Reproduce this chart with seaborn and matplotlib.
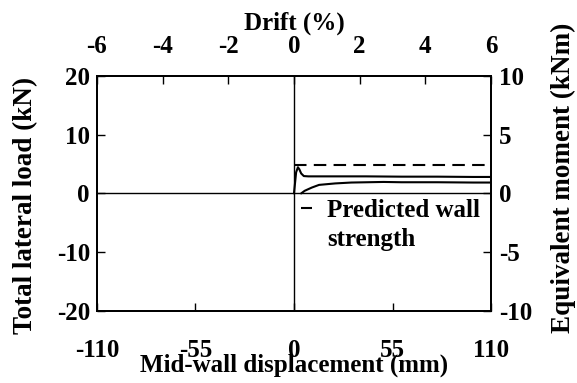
import numpy as np
import pandas as pd
import matplotlib
matplotlib.use("Agg")
import matplotlib.pyplot as plt
import seaborn as sns

# load path: mid-wall displacement (mm) vs total lateral load (kN)
disp = [0, 0.5, 1.2, 2.2, 3.0, 4.0, 5.5, 8, 20, 40, 60, 80, 100, 110,
        110, 100, 80, 60, 50, 32, 23, 14, 10, 6, 4]
load = [0, 1.5, 3.6, 4.45, 4.1, 3.4, 2.95, 2.9, 2.9, 2.9, 2.85, 2.85, 2.8, 2.8,
        1.85, 1.85, 1.9, 1.9, 1.95, 1.85, 1.7, 1.45, 1.0, 0.45, 0]

# predicted wall strength (kN)
pred_x = [0, 110]
pred_y = [4.8, 4.8]

x_ticks = [-110, -55, 0, 55, 110]
y_ticks = [-20, -10, 0, 10, 20]
m_ticks = [-10, -5, 0, 5, 10]
drift_ticks = [-6, -4, -2, 0, 2, 4, 6]

sns.set_style("ticks")
plt.rcParams['font.family'] = ['Liberation Serif', 'DejaVu Serif']
plt.rcParams['font.weight'] = 'bold'
plt.rcParams['axes.labelweight'] = 'bold'
plt.rcParams['axes.unicode_minus'] = False
for k in ['text.color', 'axes.labelcolor', 'xtick.color', 'ytick.color', 'axes.edgecolor']:
    plt.rcParams[k] = 'black'
fs = 18
fs_y = 19.5

fig = plt.figure(figsize=(5.77, 3.83), dpi=100)
ax = fig.add_axes([0.168, 0.188, 0.683, 0.614])

curve = pd.DataFrame({'disp': disp, 'load': load})
sns.lineplot(data=curve, x='disp', y='load', sort=False, estimator=None,
             color='black', linewidth=1.5, ax=ax)
sns.lineplot(x=pred_x, y=pred_y, color='black', linewidth=1.5,
             linestyle=(0, (6, 3.5)), label='Predicted wall', ax=ax)

ax.axhline(0, color='black', linewidth=1)
ax.axvline(0, color='black', linewidth=1)

ax.set_xlim(-110, 110)
ax.set_ylim(-20, 20)
ax.set_xticks(x_ticks)
ax.set_yticks(y_ticks)
ax.tick_params(direction='in', length=6, width=1, labelsize=fs)
ax.tick_params(axis='x', pad=20)
ax.tick_params(axis='y', pad=5)
ax.set_xlabel('Mid-wall displacement (mm)', fontsize=fs, labelpad=-6)
ax.set_ylabel('Total lateral load (kN)', fontsize=fs_y)
ax.yaxis.set_label_coords(-0.148, 0.45)

# right axis: equivalent moment
ax2 = ax.twinx()
ax2.set_ylim(-10, 10)
ax2.set_yticks(m_ticks)
ax2.tick_params(direction='in', length=6, width=1, labelsize=fs, pad=6)
ax2.set_ylabel('Equivalent moment (kNm)', fontsize=fs_y)
ax2.yaxis.set_label_coords(1.152, 0.565)

# top axis: drift
ax3 = ax.twiny()
ax3.set_xlim(-6, 6)
ax3.set_xticks(drift_ticks)
ax3.tick_params(direction='in', length=6, width=1, labelsize=fs, pad=13)
ax3.set_xlabel('Drift (%)', fontsize=fs, labelpad=4)

for a in (ax, ax2, ax3):
    for s in a.spines.values():
        s.set_linewidth(1.2)
        s.set_color('black')

leg = ax.legend(loc='upper left', bbox_to_anchor=(0.493, 0.52), frameon=False,
                fontsize=fs, handlelength=0.45, handletextpad=0.6,
                borderaxespad=0)
ax.text(0.584, 0.305, 'strength', transform=ax.transAxes, fontsize=fs,
        va='center', ha='left')

fig.savefig('out.png', dpi=100)
